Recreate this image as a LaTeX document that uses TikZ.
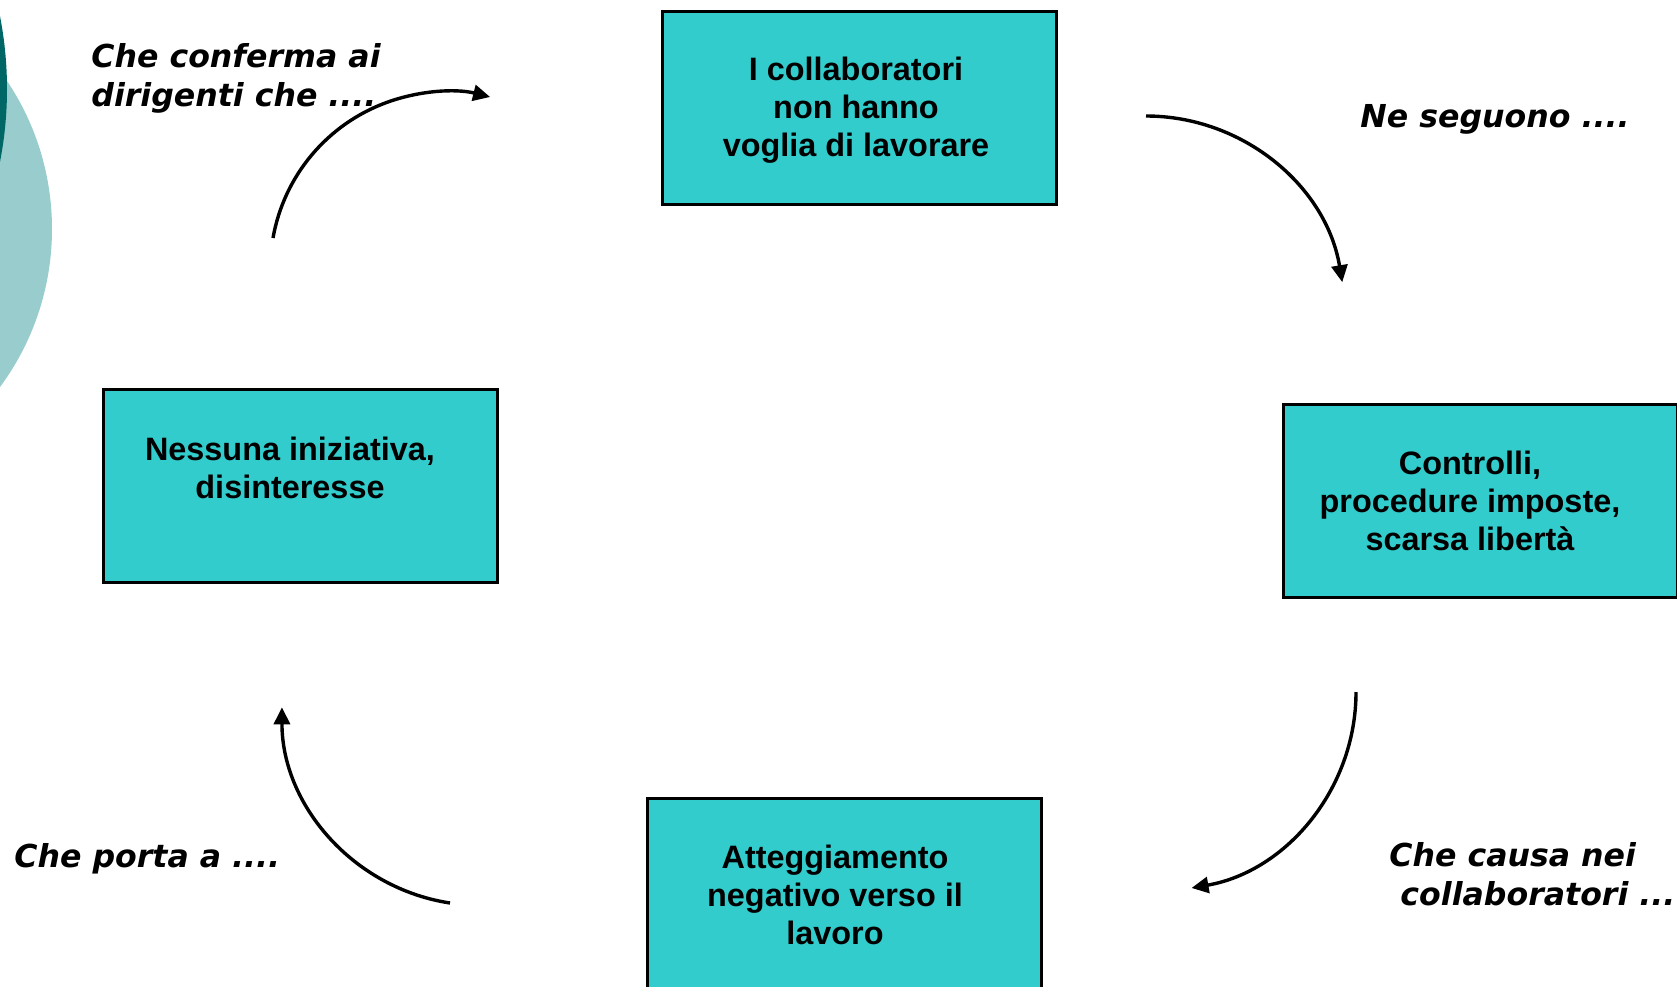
\documentclass[tikz,border=0pt]{standalone}
\usepackage{fontspec}
\newfontfamily\boxfont{Liberation Sans}
\newfontfamily\lblfont{DejaVu Sans}
\usetikzlibrary{arrows.meta}
\definecolor{boxcyan}{HTML}{33CCCC}
\definecolor{tealdark}{HTML}{006666}
\definecolor{teallight}{HTML}{99CCCC}

\begin{document}
\begin{tikzpicture}[x=0.5pt,y=0.5pt,
  box/.style={draw=black, line width=1.4pt, fill=boxcyan, anchor=north west,
    inner sep=0pt, minimum width=197pt, minimum height=96.5pt},
  boxtext/.style={anchor=base, inner sep=0pt,
    font=\boxfont\bfseries\fontsize{16.2}{19}\selectfont},
  lbl/.style={anchor=base west, inner sep=0pt,
    font=\lblfont\bfseries\itshape\fontsize{15.8}{19.5}\selectfont},
  flow/.style={line width=1.7pt, -{Triangle[length=8.5pt,width=8pt]}},
]
\useasboundingbox (0,0) rectangle (1677,-986);
\clip (0,0) rectangle (1677,-986);

% decorative discs at the left edge
\fill[teallight] (-214,-229) circle[radius=133pt];
\fill[tealdark] (-372,-89) circle[radius=189.5pt];

% the four stages of the cycle
\node[box] (collab) at (661,-10) {};
\node[boxtext] (collabtxt) at (856,-80)
  {\begin{tabular}[t]{@{}c@{}}I collaboratori\\non hanno\\voglia di lavorare\end{tabular}};

\node[box] (controlli) at (1282,-403) {};
\node[boxtext] (controllitxt) at (1470,-474)
  {\begin{tabular}[t]{@{}c@{}}Controlli,\\procedure imposte,\\scarsa libertà\end{tabular}};

\node[box, minimum height=100pt] (atteg) at (646,-797) {};
\node[boxtext] (attegtxt) at (835,-868)
  {\begin{tabular}[t]{@{}c@{}}Atteggiamento\\negativo verso il\\lavoro\end{tabular}};

\node[box] (nessuna) at (102,-388) {};
\node[boxtext] (nessunatxt) at (290,-460)
  {\begin{tabular}[t]{@{}c@{}}Nessuna iniziativa,\\disinteresse\end{tabular}};

% captions of the transitions
\node[lbl] (lconf) at (91,-67)
  {\begin{tabular}[t]{@{}l@{}}Che conferma ai\\dirigenti che ....\end{tabular}};
\node[lbl] (lsegue) at (1360,-127) {Ne seguono ....};
\node[lbl] (lcausa) at (1389,-866)
  {\begin{tabular}[t]{@{}l@{}}Che causa nei\\\hspace*{0.35em}collaboratori ...\end{tabular}};
\node[lbl] (lporta) at (14,-867) {Che porta a ....};

% curved arrows closing the loop
\coordinate (a1) at (273,-238);
\coordinate (a2) at (1146,-116);
\coordinate (a3) at (1356,-692);
\coordinate (a4) at (450,-903);
\draw[flow] (a1) arc[start angle=170, end angle=76, radius=88.5pt];
\draw[flow] (a2) arc[start angle=90, end angle=9.5, radius=99.5pt];
\draw[flow] (a3) arc[start angle=0, end angle=-80, radius=99.5pt];
\draw[flow] (a4) arc[start angle=261.3, end angle=180, radius=99pt];
\end{tikzpicture}
\end{document}
